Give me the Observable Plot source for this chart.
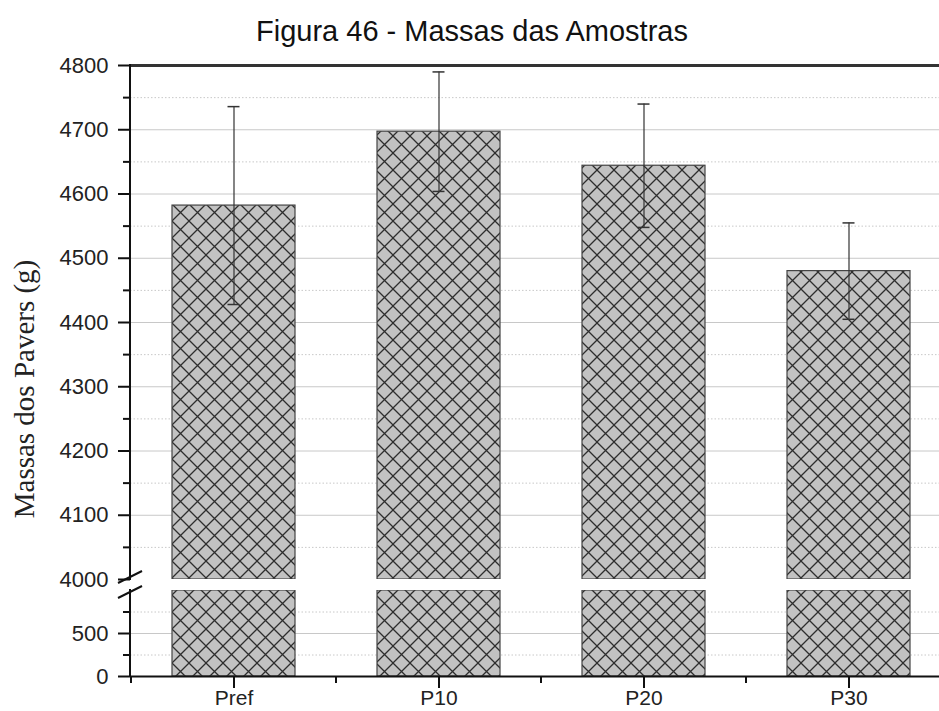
<!DOCTYPE html>
<html>
<head>
<meta charset="utf-8">
<script src="https://cdn.jsdelivr.net/npm/d3@7"></script>
<script src="https://cdn.jsdelivr.net/npm/@observablehq/plot@0.6"></script>
<style>
  html, body { margin: 0; padding: 0; background: white; overflow: hidden; }
  #wrap { position: relative; width: 939px; height: 711px; }
  #title { position: absolute; left: 0; top: 17px; width: 944px; text-align: center;
    font-family: "Liberation Sans", Arial, sans-serif; font-size: 29px; color: #111; line-height: 1; }
</style>
</head>
<body>
<div id="wrap"><div id="title">Figura 46 - Massas das Amostras</div></div>
<script>
// Data
const categories = ["Pref", "P10", "P20", "P30"];
const means = [4582, 4697, 4644, 4480];
const errors = [154, 93, 96, 75];
// Axis ticks (broken axis: 0–1000 and 4000–4800)
const majorTicks = [0, 500, 4000, 4100, 4200, 4300, 4400, 4500, 4600, 4700, 4800];
const minorTicks = [250, 750, 4050, 4150, 4250, 4350, 4450, 4550, 4650, 4750];
const gridMajor = [500, 4100, 4200, 4300, 4400, 4500, 4600, 4700];
const gridMinor = [250, 750, 4050, 4150, 4250, 4350, 4450, 4550, 4650, 4750];
const breakLow = 1000, breakHigh = 4000;

const data = categories.map((c, i) => ({name: c, value: means[i], lo: means[i] - errors[i], hi: means[i] + errors[i]}));

const ink = "#333";

function extras(index, scales, values, dimensions) {
  const {x, y} = scales;
  const g = d3.create("svg:g");
  const left = dimensions.marginLeft;
  const yb = y(0), yTop = y(4800);
  const yLow = y(breakLow), yHigh = y(breakHigh);
  // left axis line, broken at the gap
  g.append("line").attr("x1", left).attr("x2", left).attr("y1", yTop - 1).attr("y2", yHigh + 1)
    .attr("stroke", "#111").attr("stroke-width", 2);
  g.append("line").attr("x1", left).attr("x2", left).attr("y1", yLow - 1).attr("y2", yb)
    .attr("stroke", "#111").attr("stroke-width", 2);
  // break marks
  for (const yy of [yHigh - 2, yLow + 2]) {
    g.append("line").attr("x1", left - 12).attr("y1", yy + 6).attr("x2", left + 12).attr("y2", yy - 6)
      .attr("stroke", "#111").attr("stroke-width", 2);
  }
  // minor x ticks between categories
  const xs = categories.map(c => x(c));
  const step = xs[1] - xs[0];
  let bw = typeof x.bandwidth === "function" ? x.bandwidth() : x.bandwidth;
  if (!(bw > 0)) bw = step * 0.6;
  const centers = xs.map(v => v + bw / 2);
  const minors = [centers[0] - step / 2, ...centers.slice(1).map((c, i) => (c + centers[i]) / 2)];
  for (const mx of minors) {
    g.append("line").attr("x1", mx).attr("x2", mx).attr("y1", yb).attr("y2", yb + 7)
      .attr("stroke", "#111").attr("stroke-width", 2);
  }
  return g.node();
}

const plot = Plot.plot({
  width: 939,
  height: 711,
  marginLeft: 130,
  marginRight: 0,
  marginTop: 65,
  marginBottom: 35,
  style: {fontFamily: "'Liberation Sans', Arial, sans-serif", fontSize: "22px", color: "#222", background: "white"},
  x: {type: "band", domain: categories, range: [130, 951], paddingInner: 0.4, paddingOuter: 0.2, align: 0.5, label: null},
  y: {type: "linear", domain: [0, breakLow, breakHigh, 4800], range: [676, 590, 579, 65], label: null},
  marks: [
    Plot.gridY(gridMajor, {stroke: "#c8c8c8", strokeOpacity: 1, strokeWidth: 1}),
    Plot.gridY(gridMinor, {stroke: "#c8c8c8", strokeOpacity: 1, strokeWidth: 1, strokeDasharray: "1.5,2"}),
    Plot.barY(data, {x: "name", y1: 0, y2: breakLow, fill: "url(#hatch)", stroke: "#444", strokeWidth: 1.2}),
    Plot.barY(data, {x: "name", y1: breakHigh, y2: "value", fill: "url(#hatch)", stroke: "#444", strokeWidth: 1.2}),
    Plot.ruleX(data, {x: "name", y1: "lo", y2: "hi", stroke: ink, strokeWidth: 1.2}),
    Plot.tickY(data, {x: "name", y: "hi", stroke: ink, strokeWidth: 1.5, insetLeft: 55.5, insetRight: 55.5}),
    Plot.tickY(data, {x: "name", y: "lo", stroke: ink, strokeWidth: 1.5, insetLeft: 55.5, insetRight: 55.5}),
    Plot.rectY([0], {y1: breakLow, y2: breakHigh, fill: "white"}),
    Plot.ruleY([0], {stroke: "#111", strokeWidth: 2}),
    Plot.ruleY([4800], {stroke: "#333", strokeWidth: 3}),
    Plot.axisY(majorTicks, {tickSize: 12, tickPadding: 10, stroke: "#111", strokeWidth: 2, fontSize: 22, tickFormat: d => String(d), label: null}),
    Plot.axisY(minorTicks, {tickSize: 7, stroke: "#111", strokeWidth: 2, text: null, label: null}),
    Plot.axisX({tickSize: 12, tickPadding: 2, stroke: "#111", strokeWidth: 2, fontSize: 21, label: null}),
    extras,
    Plot.text(["Massas dos Pavers (g)"], {frameAnchor: "left", textAnchor: "middle", rotate: -90, dx: -106, dy: 18,
      fontFamily: "'Liberation Serif', 'Times New Roman', serif", fontSize: 29, fill: "#222"})
  ]
});

const svg = d3.select(plot);
const defs = svg.insert("defs", ":first-child");
const pat = defs.append("pattern").attr("id", "hatch").attr("patternUnits", "userSpaceOnUse")
  .attr("width", 17).attr("height", 17).attr("x", 2).attr("y", 0);
pat.append("rect").attr("width", 17).attr("height", 17).attr("fill", "#c2c2c2");
pat.append("path").attr("d", "M-2,-2L19,19M-2,15L2,19M15,-2L19,2M19,-2L-2,19M-2,2L2,-2M15,19L19,15")
  .attr("stroke", "#2e2e2e").attr("stroke-width", 1.3).attr("fill", "none");

document.getElementById("wrap").appendChild(plot);
</script>
</body>
</html>
